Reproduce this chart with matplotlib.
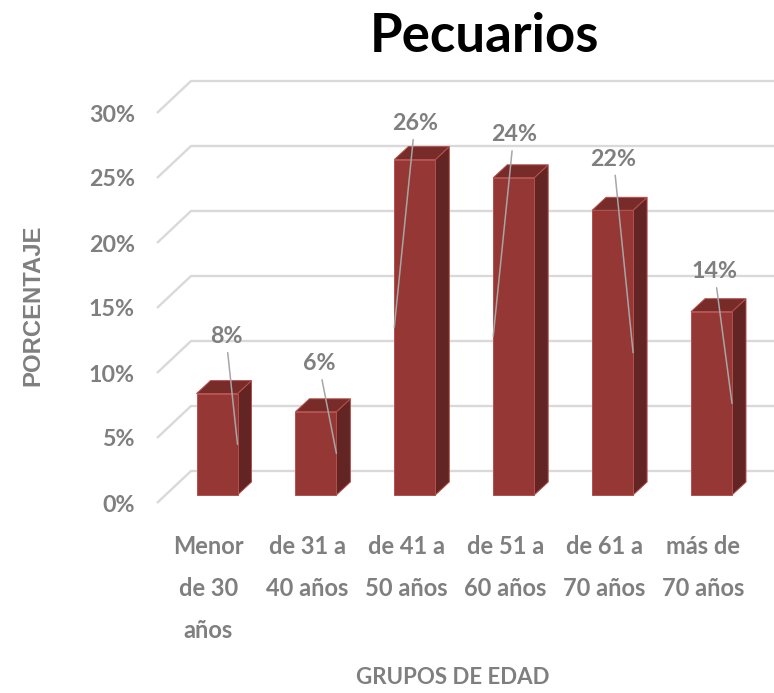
import matplotlib
matplotlib.use("Agg")
import matplotlib.pyplot as plt
from matplotlib import font_manager as fm
from matplotlib.patches import Polygon

# ---------------- data ----------------
categories = ["Menor\nde 30\naños", "de 31 a\n40 años", "de 41 a\n50 años",
              "de 51 a\n60 años", "de 61 a\n70 años", "más de\n70 años"]
values = [7.8, 6.4, 25.8, 24.4, 21.9, 14.1]          # percent
yticks = [0, 5, 10, 15, 20, 25, 30]
ytick_labels = [f"{t}%" for t in yticks]
title = "Pecuarios"
xlabel = "GRUPOS DE EDAD"
ylabel = "PORCENTAJE"

# ---------------- fonts ----------------
names = {f.name for f in fm.fontManager.ttflist}
NARROW = "Liberation Sans Narrow" if "Liberation Sans Narrow" in names else "Lato"
scale = 1.0 if NARROW == "Liberation Sans Narrow" else 0.85
WIDE = "Liberation Sans"

GRAY = "#7f7f7f"
FRONT = "#953735"
TOP = "#772c2a"
SIDE = "#632523"
EDGE = "#b5504d"
GRID = "#d9d9d9"

W, H = 774, 693
fig = plt.figure(figsize=(W / 100, H / 100), dpi=100)

# axes: front plane; pixel mapping x = 208.5 + 98.9*i, y = 503 - 13*p
px_per_cat = 98.9
px_per_pct = 13.0
left_px, right_px, bottom_px, top_px = 157, 774, 503, 113
ax = fig.add_axes([left_px / W, (H - bottom_px) / H, (right_px - left_px) / W,
                   (bottom_px - top_px) / H])
ax.set_xlim((left_px - 208.5) / px_per_cat, (right_px - 208.5) / px_per_cat)
ax.set_ylim(0, 30)
for s in ax.spines.values():
    s.set_visible(False)
ax.patch.set_alpha(0)

# depth of the box (back wall offset) and bar geometry
wall_dx, wall_dy = 34 / px_per_cat, 32 / px_per_pct
bar_dx, bar_dy = 14 / px_per_cat, 13 / px_per_pct
bar_depth_pos = 0.25
bar_w = 41 / px_per_cat
x0 = ax.get_xlim()[0]
x1 = ax.get_xlim()[1]

# gridlines (side diagonal + back wall)
for t in yticks:
    ax.plot([x0, x0 + wall_dx, x1 + wall_dx], [t, t + wall_dy, t + wall_dy],
            color=GRID, lw=1.7, clip_on=False, zorder=1, solid_capstyle="butt")

# bars
off_x, off_y = bar_depth_pos * wall_dx, bar_depth_pos * wall_dy
bar_geo = []
for i, v in enumerate(values):
    xl = i + off_x - bar_w / 2
    xr = i + off_x + bar_w / 2
    b = off_y
    t = off_y + v
    front = [(xl, b), (xr, b), (xr, t), (xl, t)]
    topf = [(xl, t), (xr, t), (xr + bar_dx, t + bar_dy), (xl + bar_dx, t + bar_dy)]
    side = [(xr, b), (xr + bar_dx, b + bar_dy), (xr + bar_dx, t + bar_dy), (xr, t)]
    for poly, col in ((side, SIDE), (topf, TOP), (front, FRONT)):
        ax.add_patch(Polygon(poly, closed=True, facecolor=col, edgecolor=EDGE,
                             lw=0.7, zorder=3, clip_on=False))
    bar_geo.append((xl, xr, b, t))

# data labels with leader lines (Excel style)
label_dy_px = [57, 48, 36, 43, 51, 40]
label_dx_px = [9, 3, 0, 0, 1, 3]
leader_side = ["r", "r", "l", "l", "r", "r"]
for i, v in enumerate(values):
    xl, xr, b, t = bar_geo[i]
    cx = (xl + xr) / 2 + label_dx_px[i] / px_per_cat
    cy = t + label_dy_px[i] / px_per_pct
    ex = xr if leader_side[i] == "r" else xl
    ey = b + v / 2
    ax.annotate(f"{round(v)}%", xy=(ex, ey), xytext=(cx, cy),
                ha="center", va="center", fontsize=19.7 * scale,
                fontfamily=NARROW, fontweight="bold", color=GRAY,
                arrowprops=dict(arrowstyle="-", color="#a6a6a6", lw=1.1,
                                shrinkA=2, shrinkB=0),
                annotation_clip=False, zorder=5)

# ticks
ax.set_yticks(yticks)
ax.set_yticklabels(ytick_labels, fontsize=19.7 * scale, fontfamily=NARROW,
                   fontweight="bold", color=GRAY)
ax.set_xticks(range(len(categories)))
ax.set_xticklabels(categories, fontsize=17.0, fontfamily=NARROW,
                   fontweight="bold", color=GRAY, linespacing=2.0)
ax.tick_params(axis="y", length=0, pad=16)
ax.tick_params(axis="x", length=0, pad=23)

# titles
fig.text(485 / W, 1 - 36 / H, title, ha="center", va="center",
         fontsize=38.0, fontfamily=NARROW, fontweight="bold", color="black")
fig.text(453 / W, 1 - 677 / H, xlabel, ha="center", va="center",
         fontsize=16.0, fontfamily=NARROW, fontweight="bold", color=GRAY)
fig.text(33 / W, 1 - 305 / H, ylabel, ha="center", va="center", rotation=90,
         fontsize=17.2, fontfamily=WIDE, fontweight="bold", color=GRAY)

fig.savefig("out.png", dpi=100)
